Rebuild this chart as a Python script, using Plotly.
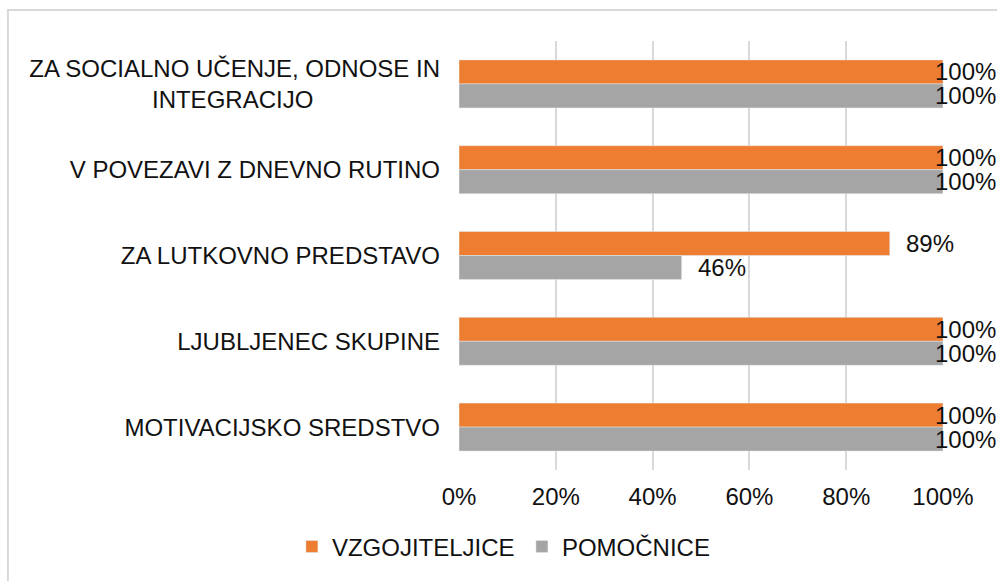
import plotly.graph_objects as go

# categories listed top to bottom, as they appear in the chart
categories = [
    "ZA SOCIALNO UČENJE, ODNOSE IN<br>" + "\u00a0" * 19 + "INTEGRACIJO" + "\u00a0" * 19,
    "V POVEZAVI Z DNEVNO RUTINO",
    "ZA LUTKOVNO PREDSTAVO",
    "LJUBLJENEC SKUPINE",
    "MOTIVACIJSKO SREDSTVO",
]
vzgojiteljice = [1.00, 1.00, 0.89, 1.00, 1.00]
pomocnice = [1.00, 1.00, 0.46, 1.00, 1.00]

ORANGE = "#ED7D31"
GRAY = "#A5A5A5"
FONT = "Liberation Sans, Arial, sans-serif"
FS = 24

fig = go.Figure()
fig.add_trace(go.Bar(y=categories, x=vzgojiteljice, orientation="h",
                     name="VZGOJITELJICE", marker_color=ORANGE))
fig.add_trace(go.Bar(y=categories, x=pomocnice, orientation="h",
                     name="POMOČNICE", marker_color=GRAY))

# data labels: Excel-style outside end, pulled back in when at the edge
annotations = []
for vals, shift in [(vzgojiteljice, 12), (pomocnice, -12)]:
    for cat, v in zip(categories, vals):
        annotations.append(dict(
            x=v, y=cat, xref="x", yref="y", text=f"{v:.0%}",
            showarrow=False, xanchor="left", yanchor="middle",
            xshift=-10 if v >= 1 else 14, yshift=shift,
            font=dict(family=FONT, size=FS, color="#111"),
        ))

fig.update_layout(
    width=997, height=581,
    margin=dict(l=459, r=54, t=41, b=109),
    paper_bgcolor="white", plot_bgcolor="white",
    font=dict(family=FONT, size=FS, color="#111"),
    barmode="group", bargap=0.44, bargroupgap=0,
    showlegend=True,
    legend=dict(orientation="h", x=0.13, xanchor="center", y=-0.179,
                yanchor="middle", font=dict(size=FS), entrywidth=185),
    annotations=annotations,
    shapes=[dict(type="rect", xref="paper", yref="paper",
                 x0=-0.932, x1=1.2, y0=1.072, y1=-0.35,
                 line=dict(color="#d9d9d9", width=2), layer="below")],
)
fig.update_xaxes(range=[0, 1], dtick=0.2, tickformat=".0%", showgrid=True,
                 gridcolor="#d9d9d9", gridwidth=1.5, zeroline=False,
                 showline=False, ticks="", ticklabelstandoff=10)
fig.update_yaxes(autorange="reversed", showgrid=False, zeroline=False,
                 showline=False, ticks="", ticklabelstandoff=18)

fig.write_html("out.html", config={"displayModeBar": False},
               post_script="document.body.style.margin='0';")
